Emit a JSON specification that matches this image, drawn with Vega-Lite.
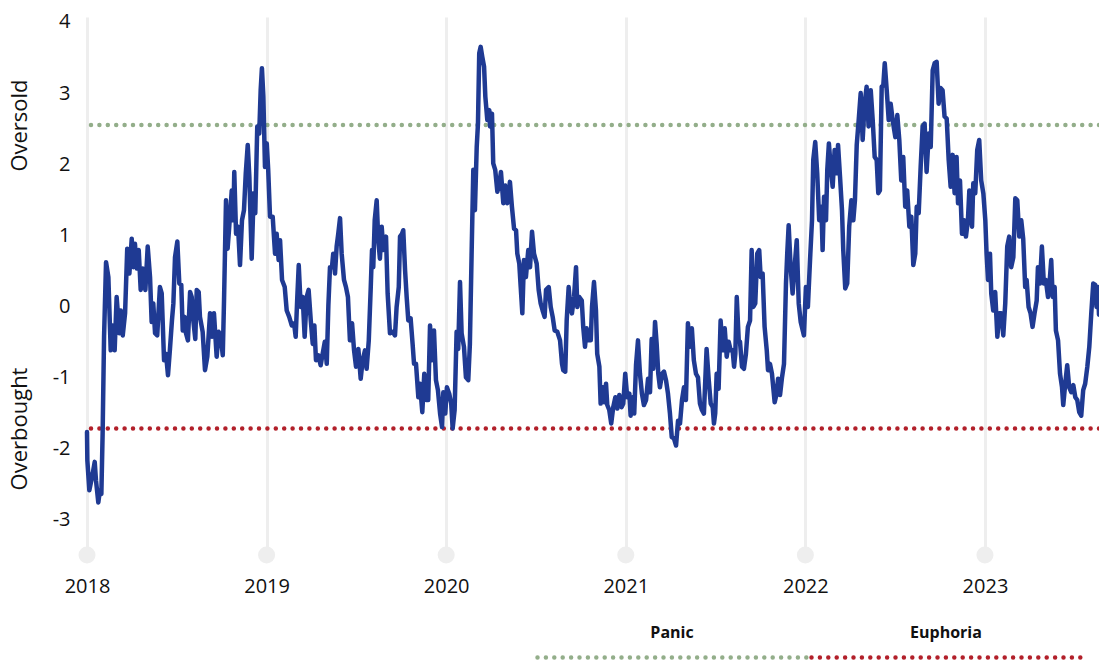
{
  "$schema": "https://vega.github.io/schema/vega-lite/v6.json",
  "width": 1012,
  "height": 538,
  "autosize": {"type": "none"},
  "padding": {"left": 87, "top": 17, "right": 0, "bottom": 106},
  "config": {
    "view": {"stroke": null},
    "font": "Open Sans",
    "axis": {"labelFont": "Open Sans", "labelColor": "#111111", "labelFontSize": 20}
  },
  "datasets": {
    "years": [{"t": 2018}, {"t": 2019}, {"t": 2020}, {"t": 2021}, {"t": 2022}, {"t": 2023}],
    "thresholds": [{"name": "Panic", "value": 2.55}, {"name": "Euphoria", "value": -1.72}],
    "series": [
      {"t": 2018.000, "v": -1.77}, {"t": 2018.002, "v": -2.17}, {"t": 2018.013, "v": -2.59}, {"t": 2018.032, "v": -2.35},
      {"t": 2018.043, "v": -2.19}, {"t": 2018.050, "v": -2.45}, {"t": 2018.063, "v": -2.76}, {"t": 2018.072, "v": -2.59},
      {"t": 2018.080, "v": -2.64}, {"t": 2018.087, "v": -1.79}, {"t": 2018.095, "v": -0.43}, {"t": 2018.106, "v": 0.62},
      {"t": 2018.119, "v": 0.41}, {"t": 2018.132, "v": -0.62}, {"t": 2018.143, "v": -0.27}, {"t": 2018.154, "v": -0.62},
      {"t": 2018.165, "v": 0.13}, {"t": 2018.180, "v": -0.38}, {"t": 2018.188, "v": -0.06}, {"t": 2018.199, "v": -0.41},
      {"t": 2018.212, "v": -0.10}, {"t": 2018.224, "v": 0.81}, {"t": 2018.236, "v": 0.46}, {"t": 2018.249, "v": 0.95},
      {"t": 2018.258, "v": 0.55}, {"t": 2018.267, "v": 0.88}, {"t": 2018.277, "v": 0.53}, {"t": 2018.288, "v": 0.79},
      {"t": 2018.299, "v": 0.23}, {"t": 2018.310, "v": 0.53}, {"t": 2018.325, "v": 0.23}, {"t": 2018.338, "v": 0.84},
      {"t": 2018.351, "v": 0.41}, {"t": 2018.360, "v": -0.22}, {"t": 2018.369, "v": 0.04}, {"t": 2018.379, "v": -0.38},
      {"t": 2018.391, "v": -0.41}, {"t": 2018.406, "v": 0.27}, {"t": 2018.416, "v": 0.18}, {"t": 2018.429, "v": -0.76},
      {"t": 2018.440, "v": -0.67}, {"t": 2018.451, "v": -0.97}, {"t": 2018.462, "v": -0.60}, {"t": 2018.473, "v": -0.20},
      {"t": 2018.481, "v": 0.04}, {"t": 2018.490, "v": 0.69}, {"t": 2018.503, "v": 0.91}, {"t": 2018.514, "v": 0.32},
      {"t": 2018.525, "v": 0.30}, {"t": 2018.533, "v": -0.34}, {"t": 2018.544, "v": -0.15}, {"t": 2018.551, "v": -0.38},
      {"t": 2018.562, "v": -0.48}, {"t": 2018.574, "v": 0.20}, {"t": 2018.583, "v": 0.13}, {"t": 2018.592, "v": -0.20},
      {"t": 2018.603, "v": -0.46}, {"t": 2018.611, "v": 0.23}, {"t": 2018.622, "v": 0.20}, {"t": 2018.629, "v": -0.15},
      {"t": 2018.644, "v": -0.36}, {"t": 2018.657, "v": -0.90}, {"t": 2018.670, "v": -0.71}, {"t": 2018.685, "v": -0.10},
      {"t": 2018.696, "v": -0.43}, {"t": 2018.707, "v": -0.10}, {"t": 2018.722, "v": -0.71}, {"t": 2018.733, "v": -0.36},
      {"t": 2018.744, "v": -0.41}, {"t": 2018.756, "v": -0.69}, {"t": 2018.763, "v": 0.08}, {"t": 2018.774, "v": 1.49},
      {"t": 2018.783, "v": 0.81}, {"t": 2018.792, "v": 1.12}, {"t": 2018.806, "v": 1.63}, {"t": 2018.815, "v": 1.21},
      {"t": 2018.820, "v": 1.89}, {"t": 2018.830, "v": 1.02}, {"t": 2018.841, "v": 1.12}, {"t": 2018.852, "v": 0.58},
      {"t": 2018.863, "v": 1.21}, {"t": 2018.874, "v": 1.35}, {"t": 2018.884, "v": 1.87}, {"t": 2018.895, "v": 2.27},
      {"t": 2018.904, "v": 1.82}, {"t": 2018.917, "v": 0.67}, {"t": 2018.928, "v": 1.59}, {"t": 2018.937, "v": 1.31},
      {"t": 2018.948, "v": 2.53}, {"t": 2018.959, "v": 2.43}, {"t": 2018.967, "v": 3.04}, {"t": 2018.974, "v": 3.35},
      {"t": 2018.982, "v": 2.95}, {"t": 2018.991, "v": 1.96}, {"t": 2019.001, "v": 2.29}, {"t": 2019.009, "v": 1.92},
      {"t": 2019.019, "v": 1.26}, {"t": 2019.034, "v": 1.26}, {"t": 2019.047, "v": 0.74}, {"t": 2019.056, "v": 1.02},
      {"t": 2019.067, "v": 0.65}, {"t": 2019.075, "v": 0.93}, {"t": 2019.086, "v": 0.37}, {"t": 2019.101, "v": 0.27},
      {"t": 2019.112, "v": -0.06}, {"t": 2019.126, "v": -0.15}, {"t": 2019.140, "v": -0.27}, {"t": 2019.153, "v": -0.24},
      {"t": 2019.162, "v": -0.43}, {"t": 2019.171, "v": 0.13}, {"t": 2019.179, "v": 0.58}, {"t": 2019.190, "v": -0.01},
      {"t": 2019.201, "v": 0.13}, {"t": 2019.212, "v": -0.43}, {"t": 2019.223, "v": 0.13}, {"t": 2019.234, "v": 0.23},
      {"t": 2019.246, "v": -0.20}, {"t": 2019.257, "v": -0.53}, {"t": 2019.266, "v": -0.27}, {"t": 2019.275, "v": -0.76},
      {"t": 2019.288, "v": -0.69}, {"t": 2019.301, "v": -0.83}, {"t": 2019.312, "v": -0.67}, {"t": 2019.324, "v": -0.50},
      {"t": 2019.335, "v": -0.81}, {"t": 2019.344, "v": 0.01}, {"t": 2019.353, "v": 0.55}, {"t": 2019.364, "v": 0.55},
      {"t": 2019.371, "v": 0.74}, {"t": 2019.381, "v": 0.46}, {"t": 2019.390, "v": 0.84}, {"t": 2019.399, "v": 1.02},
      {"t": 2019.409, "v": 1.24}, {"t": 2019.418, "v": 0.74}, {"t": 2019.431, "v": 0.37}, {"t": 2019.442, "v": 0.27},
      {"t": 2019.453, "v": 0.13}, {"t": 2019.464, "v": -0.48}, {"t": 2019.476, "v": -0.24}, {"t": 2019.487, "v": -0.62},
      {"t": 2019.498, "v": -0.85}, {"t": 2019.511, "v": -0.60}, {"t": 2019.524, "v": -1.02}, {"t": 2019.535, "v": -0.76},
      {"t": 2019.548, "v": -0.62}, {"t": 2019.557, "v": -0.88}, {"t": 2019.569, "v": -0.48}, {"t": 2019.580, "v": 0.27},
      {"t": 2019.587, "v": 0.79}, {"t": 2019.594, "v": 0.55}, {"t": 2019.602, "v": 1.21}, {"t": 2019.613, "v": 1.49},
      {"t": 2019.622, "v": 0.93}, {"t": 2019.631, "v": 0.67}, {"t": 2019.641, "v": 1.12}, {"t": 2019.650, "v": 0.79},
      {"t": 2019.665, "v": 0.98}, {"t": 2019.674, "v": 0.18}, {"t": 2019.687, "v": -0.38}, {"t": 2019.702, "v": -0.36},
      {"t": 2019.715, "v": -0.41}, {"t": 2019.724, "v": -0.01}, {"t": 2019.736, "v": 0.27}, {"t": 2019.743, "v": 0.98},
      {"t": 2019.754, "v": 1.02}, {"t": 2019.761, "v": 1.07}, {"t": 2019.771, "v": 0.51}, {"t": 2019.780, "v": 0.13},
      {"t": 2019.789, "v": -0.20}, {"t": 2019.802, "v": -0.17}, {"t": 2019.813, "v": -0.53}, {"t": 2019.821, "v": -0.81},
      {"t": 2019.832, "v": -0.81}, {"t": 2019.845, "v": -1.28}, {"t": 2019.854, "v": -1.09}, {"t": 2019.867, "v": -1.49},
      {"t": 2019.878, "v": -0.95}, {"t": 2019.888, "v": -1.32}, {"t": 2019.900, "v": -1.32}, {"t": 2019.910, "v": -0.27},
      {"t": 2019.921, "v": -0.76}, {"t": 2019.932, "v": -0.34}, {"t": 2019.943, "v": -1.04}, {"t": 2019.954, "v": -1.18},
      {"t": 2019.966, "v": -1.51}, {"t": 2019.977, "v": -1.70}, {"t": 2019.984, "v": -1.21}, {"t": 2019.995, "v": -1.51},
      {"t": 2020.004, "v": -1.14}, {"t": 2020.017, "v": -1.23}, {"t": 2020.028, "v": -1.37}, {"t": 2020.036, "v": -1.72},
      {"t": 2020.047, "v": -1.46}, {"t": 2020.058, "v": -0.36}, {"t": 2020.067, "v": -0.60}, {"t": 2020.077, "v": 0.34},
      {"t": 2020.086, "v": -0.38}, {"t": 2020.099, "v": -0.57}, {"t": 2020.110, "v": -1.00}, {"t": 2020.123, "v": -1.04},
      {"t": 2020.132, "v": -0.53}, {"t": 2020.142, "v": 0.79}, {"t": 2020.151, "v": 1.92}, {"t": 2020.160, "v": 1.35},
      {"t": 2020.170, "v": 2.24}, {"t": 2020.177, "v": 2.57}, {"t": 2020.184, "v": 3.56}, {"t": 2020.192, "v": 3.65},
      {"t": 2020.201, "v": 3.51}, {"t": 2020.211, "v": 3.37}, {"t": 2020.218, "v": 2.95}, {"t": 2020.229, "v": 2.62},
      {"t": 2020.240, "v": 2.76}, {"t": 2020.244, "v": 2.53}, {"t": 2020.255, "v": 2.71}, {"t": 2020.262, "v": 2.01},
      {"t": 2020.273, "v": 1.92}, {"t": 2020.285, "v": 1.61}, {"t": 2020.296, "v": 1.73}, {"t": 2020.305, "v": 1.89},
      {"t": 2020.318, "v": 1.45}, {"t": 2020.329, "v": 1.70}, {"t": 2020.340, "v": 1.45}, {"t": 2020.355, "v": 1.75},
      {"t": 2020.366, "v": 1.40}, {"t": 2020.378, "v": 1.09}, {"t": 2020.389, "v": 1.07}, {"t": 2020.396, "v": 0.74},
      {"t": 2020.407, "v": 0.60}, {"t": 2020.415, "v": 0.27}, {"t": 2020.424, "v": -0.10}, {"t": 2020.433, "v": 0.65},
      {"t": 2020.444, "v": 0.41}, {"t": 2020.457, "v": 0.79}, {"t": 2020.467, "v": 0.55}, {"t": 2020.478, "v": 1.05},
      {"t": 2020.489, "v": 0.74}, {"t": 2020.504, "v": 0.60}, {"t": 2020.515, "v": 0.23}, {"t": 2020.526, "v": 0.04},
      {"t": 2020.537, "v": -0.06}, {"t": 2020.548, "v": -0.15}, {"t": 2020.556, "v": 0.23}, {"t": 2020.571, "v": 0.27},
      {"t": 2020.582, "v": -0.01}, {"t": 2020.593, "v": -0.15}, {"t": 2020.604, "v": -0.34}, {"t": 2020.619, "v": -0.36},
      {"t": 2020.634, "v": -0.48}, {"t": 2020.645, "v": -0.81}, {"t": 2020.652, "v": -0.90}, {"t": 2020.663, "v": -0.92},
      {"t": 2020.671, "v": -0.20}, {"t": 2020.682, "v": 0.27}, {"t": 2020.689, "v": 0.04}, {"t": 2020.700, "v": -0.10},
      {"t": 2020.712, "v": 0.13}, {"t": 2020.723, "v": 0.55}, {"t": 2020.730, "v": -0.01}, {"t": 2020.741, "v": 0.13},
      {"t": 2020.755, "v": 0.08}, {"t": 2020.763, "v": -0.29}, {"t": 2020.773, "v": -0.57}, {"t": 2020.782, "v": -0.31},
      {"t": 2020.793, "v": -0.48}, {"t": 2020.805, "v": -0.48}, {"t": 2020.812, "v": -0.01}, {"t": 2020.823, "v": 0.34},
      {"t": 2020.834, "v": -0.06}, {"t": 2020.841, "v": -0.67}, {"t": 2020.853, "v": -0.85}, {"t": 2020.860, "v": -1.37},
      {"t": 2020.871, "v": -1.14}, {"t": 2020.880, "v": -1.35}, {"t": 2020.890, "v": -1.09}, {"t": 2020.897, "v": -1.39},
      {"t": 2020.908, "v": -1.46}, {"t": 2020.919, "v": -1.65}, {"t": 2020.930, "v": -1.42}, {"t": 2020.942, "v": -1.28},
      {"t": 2020.953, "v": -1.44}, {"t": 2020.964, "v": -1.25}, {"t": 2020.977, "v": -1.42}, {"t": 2020.986, "v": -1.37},
      {"t": 2020.997, "v": -0.95}, {"t": 2021.008, "v": -1.28}, {"t": 2021.020, "v": -1.23}, {"t": 2021.027, "v": -1.54},
      {"t": 2021.038, "v": -1.28}, {"t": 2021.047, "v": -1.51}, {"t": 2021.057, "v": -0.83}, {"t": 2021.068, "v": -0.48},
      {"t": 2021.079, "v": -0.95}, {"t": 2021.090, "v": -1.23}, {"t": 2021.101, "v": -1.39}, {"t": 2021.113, "v": -1.32},
      {"t": 2021.124, "v": -1.02}, {"t": 2021.135, "v": -1.21}, {"t": 2021.144, "v": -0.46}, {"t": 2021.153, "v": -0.88},
      {"t": 2021.163, "v": -0.22}, {"t": 2021.172, "v": -0.53}, {"t": 2021.181, "v": -0.95}, {"t": 2021.190, "v": -1.14},
      {"t": 2021.202, "v": -0.95}, {"t": 2021.213, "v": -0.92}, {"t": 2021.224, "v": -1.04}, {"t": 2021.235, "v": -1.23},
      {"t": 2021.246, "v": -1.51}, {"t": 2021.256, "v": -1.84}, {"t": 2021.268, "v": -1.86}, {"t": 2021.280, "v": -1.96},
      {"t": 2021.291, "v": -1.61}, {"t": 2021.302, "v": -1.65}, {"t": 2021.313, "v": -1.32}, {"t": 2021.324, "v": -1.14},
      {"t": 2021.335, "v": -1.32}, {"t": 2021.346, "v": -0.24}, {"t": 2021.357, "v": -0.57}, {"t": 2021.368, "v": -0.31},
      {"t": 2021.379, "v": -0.76}, {"t": 2021.391, "v": -0.95}, {"t": 2021.402, "v": -1.00}, {"t": 2021.413, "v": -1.37},
      {"t": 2021.424, "v": -1.46}, {"t": 2021.435, "v": -1.51}, {"t": 2021.450, "v": -0.60}, {"t": 2021.462, "v": -1.04},
      {"t": 2021.473, "v": -1.37}, {"t": 2021.484, "v": -1.42}, {"t": 2021.491, "v": -1.65}, {"t": 2021.498, "v": -1.51},
      {"t": 2021.506, "v": -0.95}, {"t": 2021.517, "v": -1.16}, {"t": 2021.528, "v": -0.20}, {"t": 2021.540, "v": -0.62},
      {"t": 2021.551, "v": -0.31}, {"t": 2021.562, "v": -0.71}, {"t": 2021.573, "v": -0.50}, {"t": 2021.584, "v": -0.62},
      {"t": 2021.595, "v": -0.62}, {"t": 2021.603, "v": -0.85}, {"t": 2021.610, "v": -0.67}, {"t": 2021.618, "v": 0.13},
      {"t": 2021.629, "v": -0.48}, {"t": 2021.636, "v": -0.50}, {"t": 2021.647, "v": -0.85}, {"t": 2021.658, "v": -0.88},
      {"t": 2021.669, "v": -0.67}, {"t": 2021.680, "v": -0.29}, {"t": 2021.692, "v": -0.20}, {"t": 2021.701, "v": 0.79},
      {"t": 2021.710, "v": -0.01}, {"t": 2021.721, "v": 0.04}, {"t": 2021.732, "v": 0.74}, {"t": 2021.743, "v": 0.79},
      {"t": 2021.751, "v": 0.41}, {"t": 2021.762, "v": 0.46}, {"t": 2021.773, "v": -0.29}, {"t": 2021.785, "v": -0.62},
      {"t": 2021.792, "v": -0.90}, {"t": 2021.803, "v": -0.81}, {"t": 2021.814, "v": -0.95}, {"t": 2021.829, "v": -1.35},
      {"t": 2021.840, "v": -1.23}, {"t": 2021.848, "v": -1.02}, {"t": 2021.859, "v": -1.25}, {"t": 2021.870, "v": -1.00},
      {"t": 2021.881, "v": -0.81}, {"t": 2021.892, "v": 0.32}, {"t": 2021.899, "v": 0.74}, {"t": 2021.907, "v": 1.14},
      {"t": 2021.918, "v": 0.55}, {"t": 2021.929, "v": 0.18}, {"t": 2021.940, "v": 0.55}, {"t": 2021.952, "v": 0.93},
      {"t": 2021.963, "v": 0.04}, {"t": 2021.974, "v": -0.22}, {"t": 2021.992, "v": -0.41}, {"t": 2022.003, "v": 0.27},
      {"t": 2022.014, "v": -0.01}, {"t": 2022.026, "v": 0.65}, {"t": 2022.037, "v": 1.21}, {"t": 2022.044, "v": 2.06},
      {"t": 2022.055, "v": 2.31}, {"t": 2022.066, "v": 1.87}, {"t": 2022.077, "v": 1.21}, {"t": 2022.089, "v": 1.40},
      {"t": 2022.096, "v": 0.79}, {"t": 2022.104, "v": 1.54}, {"t": 2022.115, "v": 1.21}, {"t": 2022.122, "v": 1.92},
      {"t": 2022.131, "v": 2.29}, {"t": 2022.141, "v": 1.96}, {"t": 2022.152, "v": 1.68}, {"t": 2022.163, "v": 2.20},
      {"t": 2022.174, "v": 1.87}, {"t": 2022.182, "v": 2.27}, {"t": 2022.193, "v": 1.82}, {"t": 2022.204, "v": 1.35},
      {"t": 2022.211, "v": 0.79}, {"t": 2022.222, "v": 0.25}, {"t": 2022.233, "v": 0.32}, {"t": 2022.244, "v": 1.12},
      {"t": 2022.256, "v": 1.49}, {"t": 2022.267, "v": 1.21}, {"t": 2022.276, "v": 1.49}, {"t": 2022.286, "v": 2.27},
      {"t": 2022.297, "v": 2.62}, {"t": 2022.308, "v": 3.00}, {"t": 2022.319, "v": 2.34}, {"t": 2022.330, "v": 2.85},
      {"t": 2022.341, "v": 3.09}, {"t": 2022.352, "v": 2.53}, {"t": 2022.364, "v": 3.04}, {"t": 2022.375, "v": 2.62},
      {"t": 2022.386, "v": 2.10}, {"t": 2022.397, "v": 2.06}, {"t": 2022.406, "v": 1.59}, {"t": 2022.415, "v": 1.63},
      {"t": 2022.425, "v": 3.09}, {"t": 2022.434, "v": 3.11}, {"t": 2022.442, "v": 3.42}, {"t": 2022.453, "v": 3.04},
      {"t": 2022.464, "v": 2.62}, {"t": 2022.475, "v": 2.85}, {"t": 2022.486, "v": 2.62}, {"t": 2022.501, "v": 2.38},
      {"t": 2022.512, "v": 2.69}, {"t": 2022.523, "v": 2.34}, {"t": 2022.534, "v": 1.77}, {"t": 2022.545, "v": 2.10},
      {"t": 2022.556, "v": 1.40}, {"t": 2022.567, "v": 1.63}, {"t": 2022.579, "v": 1.12}, {"t": 2022.590, "v": 1.26},
      {"t": 2022.601, "v": 0.58}, {"t": 2022.612, "v": 0.74}, {"t": 2022.620, "v": 1.40}, {"t": 2022.631, "v": 1.31},
      {"t": 2022.642, "v": 1.96}, {"t": 2022.653, "v": 2.53}, {"t": 2022.664, "v": 2.57}, {"t": 2022.675, "v": 1.89},
      {"t": 2022.687, "v": 2.43}, {"t": 2022.698, "v": 2.24}, {"t": 2022.709, "v": 3.32}, {"t": 2022.720, "v": 3.42},
      {"t": 2022.731, "v": 3.44}, {"t": 2022.742, "v": 2.85}, {"t": 2022.753, "v": 3.07}, {"t": 2022.764, "v": 3.04},
      {"t": 2022.775, "v": 2.67}, {"t": 2022.787, "v": 2.64}, {"t": 2022.798, "v": 2.06}, {"t": 2022.809, "v": 1.68},
      {"t": 2022.820, "v": 2.13}, {"t": 2022.831, "v": 1.59}, {"t": 2022.842, "v": 2.10}, {"t": 2022.850, "v": 1.45},
      {"t": 2022.861, "v": 1.77}, {"t": 2022.872, "v": 1.02}, {"t": 2022.883, "v": 1.21}, {"t": 2022.894, "v": 0.98},
      {"t": 2022.905, "v": 1.21}, {"t": 2022.913, "v": 1.63}, {"t": 2022.928, "v": 1.12}, {"t": 2022.935, "v": 1.73},
      {"t": 2022.946, "v": 1.59}, {"t": 2022.957, "v": 2.20}, {"t": 2022.968, "v": 2.34}, {"t": 2022.979, "v": 1.77},
      {"t": 2022.991, "v": 1.59}, {"t": 2023.002, "v": 1.21}, {"t": 2023.009, "v": 0.74}, {"t": 2023.017, "v": 0.37},
      {"t": 2023.028, "v": 0.74}, {"t": 2023.035, "v": 0.18}, {"t": 2023.046, "v": -0.06}, {"t": 2023.057, "v": 0.20},
      {"t": 2023.069, "v": -0.43}, {"t": 2023.080, "v": -0.10}, {"t": 2023.091, "v": -0.10}, {"t": 2023.102, "v": -0.41},
      {"t": 2023.113, "v": 0.04}, {"t": 2023.124, "v": 0.84}, {"t": 2023.135, "v": 0.98}, {"t": 2023.146, "v": 0.55},
      {"t": 2023.158, "v": 0.69}, {"t": 2023.169, "v": 1.52}, {"t": 2023.180, "v": 1.49}, {"t": 2023.191, "v": 0.98},
      {"t": 2023.202, "v": 1.21}, {"t": 2023.213, "v": 0.95}, {"t": 2023.224, "v": 0.27}, {"t": 2023.232, "v": 0.37},
      {"t": 2023.243, "v": -0.01}, {"t": 2023.254, "v": -0.10}, {"t": 2023.265, "v": -0.29}, {"t": 2023.276, "v": -0.10},
      {"t": 2023.288, "v": 0.08}, {"t": 2023.295, "v": 0.55}, {"t": 2023.306, "v": 0.32}, {"t": 2023.317, "v": 0.84},
      {"t": 2023.328, "v": 0.32}, {"t": 2023.339, "v": 0.37}, {"t": 2023.351, "v": 0.13}, {"t": 2023.362, "v": 0.41},
      {"t": 2023.369, "v": 0.65}, {"t": 2023.377, "v": 0.13}, {"t": 2023.388, "v": 0.27}, {"t": 2023.395, "v": -0.34},
      {"t": 2023.407, "v": -0.48}, {"t": 2023.418, "v": -0.95}, {"t": 2023.429, "v": -1.14}, {"t": 2023.436, "v": -1.39},
      {"t": 2023.447, "v": -1.09}, {"t": 2023.458, "v": -0.83}, {"t": 2023.469, "v": -1.14}, {"t": 2023.481, "v": -1.21},
      {"t": 2023.492, "v": -1.11}, {"t": 2023.503, "v": -1.28}, {"t": 2023.514, "v": -1.32}, {"t": 2023.525, "v": -1.49},
      {"t": 2023.536, "v": -1.54}, {"t": 2023.547, "v": -1.18}, {"t": 2023.558, "v": -1.09}, {"t": 2023.570, "v": -0.85},
      {"t": 2023.581, "v": -0.57}, {"t": 2023.592, "v": -0.10}, {"t": 2023.603, "v": 0.32}, {"t": 2023.614, "v": 0.30},
      {"t": 2023.621, "v": -0.01}, {"t": 2023.629, "v": 0.27}, {"t": 2023.635, "v": -0.12}
    ]
  },
  "layer": [
    {
      "data": {"name": "years"},
      "mark": {"type": "circle", "color": "#eeeeee", "opacity": 1, "size": 290, "clip": false},
      "encoding": {
        "x": {"field": "t", "type": "quantitative", "scale": {"domain": [2018, 2023.635], "nice": false, "zero": false},
              "axis": {"values": [2018, 2019, 2020, 2021, 2022, 2023], "format": "d", "title": null, "domain": false, "ticks": false, "tickSize": 0, "labelPadding": 21, "labelFlush": false, "grid": true, "gridColor": "#eeeeee", "gridWidth": 3}},
        "y": {"datum": -3.5, "type": "quantitative", "scale": {"domain": [-3.5, 4.07], "nice": false, "zero": false}, "axis": null}
      }
    },
    {
      "data": {"name": "thresholds"},
      "mark": {"type": "rule", "strokeWidth": 4.5, "strokeDash": [0, 8.4], "strokeCap": "round"},
      "encoding": {
        "y": {"field": "value", "type": "quantitative", "scale": {"domain": [-3.5, 4.07], "nice": false, "zero": false},
              "axis": {"orient": "left", "title": null, "values": [2.55, -1.72], "labelExpr": "datum.value > 0 ? 'Oversold' : 'Overbought'", "labelAngle": -90, "labelAlign": "center", "labelBaseline": "alphabetic", "labelPadding": 61, "ticks": false, "tickSize": 0, "domain": false, "grid": false, "labelFontSize": 22}},
        "color": {"field": "name", "type": "nominal", "scale": {"domain": ["Panic", "Euphoria"], "range": ["#93ae8a", "#b2202a"]},
                  "legend": {"orient": "none", "legendX": 448, "legendY": 502, "direction": "horizontal", "columns": 2, "gridAlign": "none", "title": null,
                             "symbolType": "M-1,0H1", "symbolSize": 73984, "symbolStrokeWidth": 4.5, "symbolDash": [0, 8.4],
                             "labelAlign": "center", "labelOffset": -140, "labelFontSize": 16, "labelFontWeight": "bold", "labelFont": "Open Sans", "labelColor": "#111111",
                             "columnPadding": -17,
                             "encode": {"symbols": {"update": {"strokeCap": {"value": "round"}}}, "labels": {"update": {"dy": {"value": -25}}}}}}
      }
    },
    {
      "data": {"name": "series"},
      "mark": {"type": "line", "color": "#1f3a93", "strokeWidth": 4.5, "strokeJoin": "round", "strokeCap": "round"},
      "encoding": {
        "x": {"field": "t", "type": "quantitative", "scale": {"domain": [2018, 2023.635], "nice": false, "zero": false}},
        "y": {"field": "v", "type": "quantitative", "scale": {"domain": [-3.5, 4.07], "nice": false, "zero": false},
              "axis": {"orient": "left", "title": null, "values": [-3, -2, -1, 0, 1, 2, 3, 4], "labelExpr": "'' + datum.value", "labelPadding": 17, "ticks": false, "tickSize": 0, "domain": false, "grid": false}}
      }
    }
  ],
  "resolve": {"axis": {"y": "independent"}}
}
